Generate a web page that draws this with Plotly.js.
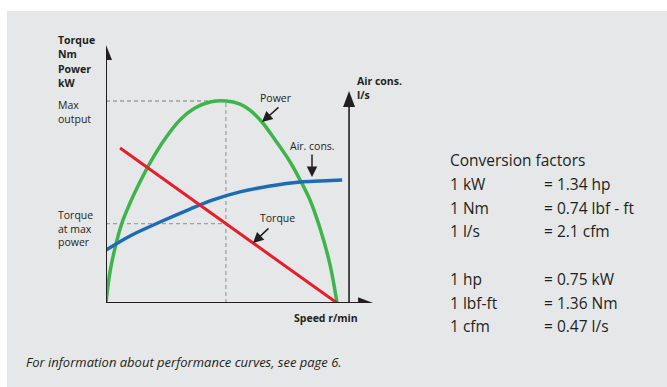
<!DOCTYPE html>
<html>
<head>
<meta charset="utf-8">
<script src="https://cdn.plot.ly/plotly-3.0.1.min.js"></script>
<style>html,body{margin:0;padding:0;background:#fff}#chart{width:667px;height:387px}</style>
</head>
<body>
<div id="chart"></div>
<script>
// Speed in % of no-load speed; values in % of max output
const powerSpeed = [0, 1.7, 3.9, 6.9, 10.4, 14.7, 19.0, 25.5, 32.0, 38.5, 45.0, 51.9, 58.0, 62.3, 67.5, 73.2, 79.7, 84.0, 88.3, 92.6, 97.0, 100];
const powerValue = [0, 15.3, 27.2, 39.6, 49.5, 59.9, 69.3, 81.2, 90.6, 96.5, 99.5, 100, 98.5, 95.5, 89.6, 80.7, 69.8, 60.9, 51.0, 37.1, 18.8, 0];
const airSpeed = [0, 10.4, 23.4, 36.4, 46.3, 58.0, 71.0, 84.0, 92.6, 102.2];
const airValue = [26.2, 33.2, 40.1, 46.5, 51.0, 55.0, 57.9, 59.9, 60.4, 60.9];
const torqueSpeed = [6.1, 100];
const torqueValue = [76.7, 0];
const airAxisSpeed = 105.2;

const convLeft = ["1 kW", "1 Nm", "1 l/s", "", "1 hp", "1 lbf-ft", "1 cfm"];
const convRight = ["= 1.34 hp", "= 0.74 lbf - ft", "= 2.1 cfm", "", "= 0.75 kW", "= 1.36 Nm", "= 0.47 l/s"];

const W = 667, H = 387;
const ML = 106, MT = 42, PW = 268, PH = 261;
// paper coordinates in Plotly are relative to the plot area
const px = x => (x - ML) / PW, py = y => (MT + PH - y) / PH;
const ink = '#231f20';
const FONT = 'Open Sans, Noto Sans, sans-serif';

// peak of power curve
let pk = 0;
powerValue.forEach((v, i) => { if (v > powerValue[pk]) pk = i; });
const peakSpeed = powerSpeed[pk], peakPower = powerValue[pk];
const torqueAtPeak = torqueValue[0] + (torqueValue[1] - torqueValue[0]) * (peakSpeed - torqueSpeed[0]) / (torqueSpeed[1] - torqueSpeed[0]);

const traces = [
  {x: powerSpeed, y: powerValue, mode: 'lines', line: {color: '#3db54a', width: 3.5, shape: 'spline'}, hoverinfo: 'skip'},
  {x: airSpeed, y: airValue, mode: 'lines', line: {color: '#1b6cb5', width: 3.5, shape: 'spline'}, hoverinfo: 'skip'},
  {x: torqueSpeed, y: torqueValue, mode: 'lines', line: {color: '#e31f2b', width: 3}, hoverinfo: 'skip'}
];

const shapes = [
  {type: 'rect', xref: 'paper', yref: 'paper', x0: px(7), x1: px(W), y0: py(H), y1: py(11), fillcolor: '#e6e7e8', line: {width: 0}, layer: 'below'},
  // dashed guides
  {type: 'line', x0: 0, x1: peakSpeed, y0: peakPower, y1: peakPower, line: {color: '#a0a0a0', width: 1.3, dash: '4px,3px'}, layer: 'below'},
  {type: 'line', x0: peakSpeed, x1: peakSpeed, y0: 0, y1: peakPower, line: {color: '#a0a0a0', width: 1.3, dash: '4px,3px'}, layer: 'below'},
  {type: 'line', x0: 0, x1: peakSpeed, y0: torqueAtPeak, y1: torqueAtPeak, line: {color: '#a0a0a0', width: 1.3, dash: '4px,3px'}, layer: 'below'},
  // axes
  {type: 'line', x0: 0, x1: 0, y0: 0, y1: 121, line: {color: ink, width: 2}},
  {type: 'line', x0: 0, x1: 110, y0: 0, y1: 0, line: {color: ink, width: 2}},
  {type: 'line', x0: airAxisSpeed, x1: airAxisSpeed, y0: 0, y1: 98, line: {color: ink, width: 1.6}},
  // arrowheads
  {type: 'path', path: 'M -2.6 120.3 L 2.6 120.3 L 0 127.7 Z', fillcolor: ink, line: {width: 0}},
  {type: 'path', path: 'M 109.1 -2.8 L 109.1 2.8 L 115.6 0 Z', fillcolor: ink, line: {width: 0}},
  {type: 'path', path: `M ${airAxisSpeed - 2.6} 97 L ${airAxisSpeed + 2.6} 97 L ${airAxisSpeed} 105 Z`, fillcolor: ink, line: {width: 0}}
];

const ann = [];
function txt(x, y, t, opts = {}) {
  ann.push(Object.assign({xref: 'paper', yref: 'paper', x: px(x), y: py(y), text: t, showarrow: false,
    xanchor: 'left', yanchor: 'middle', align: 'left', font: {family: FONT, size: 10.5, color: ink}}, opts));
}
const B = {family: FONT, size: 10.5, color: ink};
txt(56, 47, '<b>Torque<br>Nm</b>', {font: B});
txt(56, 76, '<b>Power<br>kW</b>', {font: B});
txt(56, 112, 'Max<br>output', {font: B});
txt(56, 228, 'Torque<br>at max<br>power', {font: B});
txt(355, 88, '<b>Air cons.<br>l/s</b>', {font: B});
txt(292, 318, '<b>Speed r/min</b>', {font: B});
txt(276, 98, 'Power', {xanchor: 'center'});
txt(312, 146, 'Air. cons.', {xanchor: 'center'});
txt(277, 218, 'Torque', {xanchor: 'center'});

// pointer arrows (tail/head in pixel layout positions)
function arrow(x0, y0, x1, y1) {
  ann.push({xref: 'paper', yref: 'paper', x: px(x1), y: py(y1), ax: x0 - x1, ay: y0 - y1, text: '',
    showarrow: true, arrowhead: 2, arrowsize: 1.4, arrowwidth: 1.5, arrowcolor: ink, standoff: 0});
}
arrow(280, 106, 262, 122);
arrow(312, 153, 312, 177);
arrow(270, 227, 253, 243);

// conversion factors
const CF = {family: FONT, size: 15.5, color: ink};
txt(448, 160, 'Conversion factors', {font: CF});
convLeft.forEach((t, i) => {
  if (!t) return;
  const y = 184 + i * 23.7;
  txt(448, y, t, {font: CF});
  txt(542, y, convRight[i], {font: CF});
});
txt(24, 362, '<i>For information about performance curves, see page 6.</i>', {font: {family: FONT, size: 13, color: ink}});

const layout = {
  width: W, height: H,
  margin: {l: ML, r: W - ML - PW, t: MT, b: H - MT - PH, pad: 0},
  paper_bgcolor: '#ffffff', plot_bgcolor: 'rgba(0,0,0,0)',
  showlegend: false,
  xaxis: {range: [0, 116], visible: false, fixedrange: true},
  yaxis: {range: [0, 129.2], visible: false, fixedrange: true},
  shapes: shapes, annotations: ann
};
Plotly.newPlot('chart', traces, layout, {displayModeBar: false, staticPlot: true});
</script>
</body>
</html>
